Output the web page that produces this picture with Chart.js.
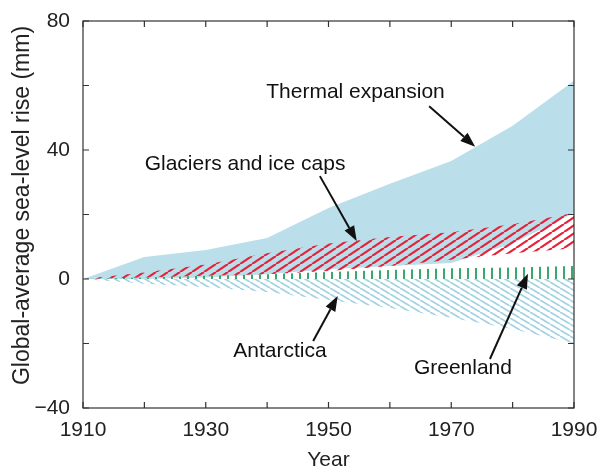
<!DOCTYPE html>
<html lang="en">
<head>
    <script src="https://cdn.jsdelivr.net/npm/chart.js@4.4.0/dist/chart.umd.min.js"></script>
    <style>
        html, body { margin: 0; padding: 0; background: #fff; }
        #canvas-container { position: relative; width: 603px; height: 471px; }
    </style>
</head>
<body>

<div id="canvas-container">
    <canvas id="sea-level" width="603" height="471"></canvas>
</div>

<script>
    // values, one per decade (mm)
    const years = [1910, 1920, 1930, 1940, 1950, 1960, 1970, 1980, 1990];
    const thermalTop = [0, 6.8, 9, 12.7, 22, 29.5, 36.6, 47.5, 61.5];
    const thermalBase = [0, 0, 0.5, 1.5, 3, 4, 5, 11, 20.5];
    const glacierTop = [0, 2, 4.5, 8, 11, 13, 14.5, 17, 20.5];
    const glacierBase = [0, 0.5, 1, 1.5, 2.5, 4, 6, 8, 9.5];
    const greenland = [0, 0.5, 1, 1.5, 2.2, 2.8, 3.3, 3.6, 4];
    const antarctica = [0, -1.5, -2.5, -4, -6.5, -9, -12, -15.5, -20];

    const xTickLabels = [1910, 1930, 1950, 1970, 1990];
    const yTickLabels = [-40, 0, 40, 80];
    const yTitle = 'Global-average sea-level rise (mm)';

    // label text + arrow (tail -> head), in data units
    const notes = [
        { text: 'Thermal expansion', at: [1954.4, 58], from: [1966.4, 53.6], to: [1973.9, 41] },
        { text: 'Glaciers and ice caps', at: [1936.4, 35.6], from: [1948.6, 31.9], to: [1954.6, 11.8] },
        { text: 'Antarctica', at: [1942.1, -22.3], from: [1947.5, -19.2], to: [1951.5, -5.3] },
        { text: 'Greenland', at: [1971.9, -27.6], from: [1976.3, -24.8], to: [1982.5, 1.6] }
    ];

    const FONT = "'Liberation Sans', Arial, Helvetica, sans-serif";

    function pts(values) {
        return years.map((yr, i) => ({ x: yr, y: values[i] }));
    }

    // diagonal hatch tile, dir '/' or '\'
    function hatch(color, w, h, lw, dir) {
        const c = document.createElement('canvas');
        c.width = w; c.height = h;
        const g = c.getContext('2d');
        g.strokeStyle = color;
        g.lineWidth = lw;
        g.beginPath();
        for (let k = -1; k <= 1; k++) {
            if (dir === '/') { g.moveTo(k * w, h); g.lineTo(k * w + w, 0); }
            else { g.moveTo(k * w, 0); g.lineTo(k * w + w, h); }
        }
        g.stroke();
        return g.createPattern(c, 'repeat');
    }

    function dashes(color, w, lw) {
        const c = document.createElement('canvas');
        c.width = w; c.height = 2;
        const g = c.getContext('2d');
        g.fillStyle = color;
        g.fillRect(Math.floor((w - lw) / 2), 0, lw, 2);
        return g.createPattern(c, 'repeat');
    }

    function arrow(ctx, x0, y0, x1, y1) {
        const a = Math.atan2(y1 - y0, x1 - x0);
        const len = 15, half = 5.5;
        const bx = x1 - len * Math.cos(a), by = y1 - len * Math.sin(a);
        ctx.beginPath();
        ctx.moveTo(x0, y0);
        ctx.lineTo(bx, by);
        ctx.stroke();
        ctx.beginPath();
        ctx.moveTo(x1, y1);
        ctx.lineTo(bx + half * Math.sin(a), by - half * Math.cos(a));
        ctx.lineTo(bx - half * Math.sin(a), by + half * Math.cos(a));
        ctx.closePath();
        ctx.fill();
    }

    // box, inward ticks, y title and the arrow labels
    const framePlugin = {
        id: 'frame',
        afterDraw(chart) {
            const { ctx, chartArea: a, scales: { x, y } } = chart;
            ctx.save();
            ctx.strokeStyle = '#333';
            ctx.lineWidth = 1.2;
            ctx.strokeRect(a.left, a.top, a.right - a.left, a.bottom - a.top);
            ctx.beginPath();
            x.ticks.forEach(t => {
                const px = x.getPixelForValue(t.value);
                ctx.moveTo(px, a.bottom); ctx.lineTo(px, a.bottom - 6);
                ctx.moveTo(px, a.top); ctx.lineTo(px, a.top + 6);
            });
            y.ticks.forEach(t => {
                const py = y.getPixelForValue(t.value);
                ctx.moveTo(a.left, py); ctx.lineTo(a.left + 6, py);
                ctx.moveTo(a.right, py); ctx.lineTo(a.right - 6, py);
            });
            ctx.stroke();

            ctx.fillStyle = '#222';
            ctx.textAlign = 'center';
            ctx.textBaseline = 'middle';
            ctx.font = '23px ' + FONT;
            ctx.save();
            ctx.translate(23, (a.top + a.bottom) / 2 - 9);
            ctx.rotate(-Math.PI / 2);
            ctx.fillText(yTitle, 0, 0);
            ctx.restore();

            ctx.fillStyle = '#111';
            ctx.strokeStyle = '#111';
            ctx.lineWidth = 2;
            ctx.font = '21px ' + FONT;
            notes.forEach(n => {
                ctx.fillText(n.text, x.getPixelForValue(n.at[0]), y.getPixelForValue(n.at[1]));
                arrow(ctx,
                    x.getPixelForValue(n.from[0]), y.getPixelForValue(n.from[1]),
                    x.getPixelForValue(n.to[0]), y.getPixelForValue(n.to[1]));
            });
            ctx.restore();
        }
    };

    const base = { pointRadius: 0, borderWidth: 0, borderColor: 'transparent', tension: 0, fill: false };

    new Chart(document.getElementById('sea-level'), {
        type: 'line',
        data: {
            datasets: [
                { ...base, label: 'thermal base', data: pts(thermalBase), order: 4 },
                { ...base, label: 'Thermal expansion', data: pts(thermalTop), fill: 0,
                  backgroundColor: '#badfeb', order: 4 },
                { ...base, label: 'glacier base', data: pts(glacierBase), order: 3 },
                { ...base, label: 'Glaciers and ice caps', data: pts(glacierTop), fill: 2,
                  backgroundColor: hatch('#e5223a', 12, 8, 2.2, '/'), order: 3 },
                { ...base, label: 'Greenland', data: pts(greenland), fill: 'origin',
                  backgroundColor: dashes('#3aa86a', 8, 2), order: 2 },
                { ...base, label: 'Antarctica', data: pts(antarctica), fill: 'origin',
                  backgroundColor: hatch('#a6d2e2', 10, 6, 1.8, '\\'), order: 2 }
            ]
        },
        options: {
            responsive: false,
            animation: false,
            devicePixelRatio: 1,
            layout: { padding: { left: 0, right: 29, top: 21, bottom: 0 } },
            plugins: {
                legend: { display: false },
                tooltip: { enabled: false }
            },
            scales: {
                x: {
                    type: 'linear',
                    min: 1910,
                    max: 1990,
                    grid: { display: false, drawTicks: false },
                    border: { display: false },
                    ticks: {
                        stepSize: 10,
                        autoSkip: false,
                        maxRotation: 0,
                        padding: 10,
                        color: '#222',
                        font: { family: FONT, size: 21 },
                        callback: v => xTickLabels.includes(v) ? String(v) : ''
                    },
                    title: {
                        display: true,
                        text: 'Year',
                        color: '#222',
                        font: { family: FONT, size: 21, lineHeight: 1 },
                        padding: { top: 0, bottom: 0 }
                    },
                    afterFit: s => { s.height = 63; s.paddingLeft = 0; s.paddingRight = 0; }
                },
                y: {
                    min: -40,
                    max: 80,
                    grid: { display: false, drawTicks: false },
                    border: { display: false },
                    ticks: {
                        stepSize: 20,
                        padding: 13,
                        color: '#222',
                        font: { family: FONT, size: 21 },
                        callback: v => yTickLabels.includes(v) ? (v < 0 ? '\u2212' + (-v) : String(v)) : ''
                    },
                    title: { display: false },
                    afterFit: s => { s.width = 83; s.paddingTop = 0; s.paddingBottom = 0; }
                }
            }
        },
        plugins: [framePlugin]
    });
</script>

</body>
</html>
